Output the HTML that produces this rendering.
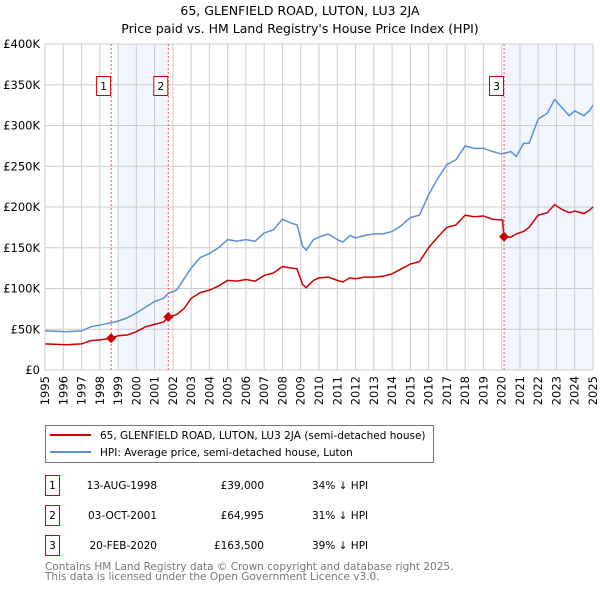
<!DOCTYPE html>
<html><head><meta charset="utf-8"><style>
body{margin:0;background:#fff;font-family:"DejaVu Sans","Liberation Sans",sans-serif;}
svg text{font-family:"DejaVu Sans","Liberation Sans",sans-serif;}
</style></head><body>
<svg id="chart" width="600" height="590" xmlns="http://www.w3.org/2000/svg">
<text x="300" y="15" text-anchor="middle" font-size="12.5" fill="#000">65, GLENFIELD ROAD, LUTON, LU3 2JA</text>
<text x="300" y="33" text-anchor="middle" font-size="12.5" fill="#000">Price paid vs. HM Land Registry's House Price Index (HPI)</text>
<g id="shade"></g><g id="grid"></g><g id="axes"></g><g id="series"></g><g id="marks"></g>
<rect x="45.5" y="425.5" width="388" height="37" fill="#fff" stroke="#777"/>
<line x1="50" y1="435" x2="91" y2="435" stroke="#cc0000" stroke-width="2"/>
<text x="100" y="439" font-size="10.5">65, GLENFIELD ROAD, LUTON, LU3 2JA (semi-detached house)</text>
<line x1="50" y1="452" x2="91" y2="452" stroke="#5b8fd4" stroke-width="2"/>
<text x="100" y="456" font-size="10.5">HPI: Average price, semi-detached house, Luton</text>
<g id="table"></g>
<text x="45" y="570" font-size="10.5" fill="#777">Contains HM Land Registry data © Crown copyright and database right 2025.</text>
<text x="45" y="580" font-size="10.5" fill="#777">This data is licensed under the Open Government Licence v3.0.</text>
</svg>
<script>
const yearTicks=[1995,1996,1997,1998,1999,2000,2001,2002,2003,2004,2005,2006,2007,2008,2009,2010,2011,2012,2013,2014,2015,2016,2017,2018,2019,2020,2021,2022,2023,2024,2025];
const valueTicks=[0,50,100,150,200,250,300,350,400];
const valueTickLabels=["£0","£50K","£100K","£150K","£200K","£250K","£300K","£350K","£400K"];
const hpiYears=[1995,1996.2,1997,1997.5,1998,1998.6,1999,1999.5,2000,2000.5,2001,2001.5,2001.75,2002.2,2002.5,2003,2003.5,2004,2004.5,2005,2005.5,2006,2006.5,2007,2007.5,2008,2008.5,2008.8,2009.1,2009.3,2009.7,2010,2010.5,2011,2011.3,2011.7,2012,2012.5,2013,2013.5,2014,2014.5,2015,2015.5,2016,2016.5,2017,2017.5,2018,2018.5,2019,2019.5,2020,2020.5,2020.8,2021.2,2021.5,2022,2022.5,2022.9,2023.3,2023.7,2024,2024.5,2024.8,2025];
const hpiValues=[48,47,48,53,55,58,60,64,70,77,84,88,94,98,108,125,138,143,150,160,158,160,158,168,172,185,180,178,152,147,160,163,167,160,157,165,162,165,167,167,170,177,187,190,215,235,252,258,275,272,272,268,265,268,262,278,278,308,315,332,322,312,318,312,318,325];
const priceYears=[1995,1996.2,1997,1997.5,1998,1998.62,1999,1999.5,2000,2000.5,2001,2001.5,2001.75,2002.2,2002.6,2003,2003.5,2004,2004.5,2005,2005.5,2006,2006.5,2007,2007.5,2008,2008.5,2008.8,2009.1,2009.3,2009.7,2010,2010.5,2011,2011.3,2011.7,2012,2012.5,2013,2013.5,2014,2014.5,2015,2015.5,2016,2016.5,2017,2017.5,2018,2018.5,2019,2019.5,2020.05,2020.13,2020.5,2020.8,2021.2,2021.5,2022,2022.5,2022.9,2023.3,2023.7,2024,2024.5,2024.8,2025];
const priceValues=[32,31,32,36,37,39,42,43,47,53,56,59,65,68,75,88,95,98,103,110,109,111,109,116,119,127,125,124,105,101,110,113,114,110,108,113,112,114,114,115,118,124,130,133,150,163,175,178,190,188,189,185,184,163.5,163,167,170,175,190,193,203,197,193,195,192,196,200];
const saleIds=["1","2","3"];
const saleYears=[1998.62,2001.75,2020.13];
const saleValues=[39,64.995,163.5];
const saleDates=["13-AUG-1998","03-OCT-2001","20-FEB-2020"];
const salePrices=["£39,000","£64,995","£163,500"];
const saleDiffs=["34% ↓ HPI","31% ↓ HPI","39% ↓ HPI"];

const NS="http://www.w3.org/2000/svg";
const X0=45,X1=593,Y0=370,Y1=44;
function xs(y){return X0+(y-1995)/30*(X1-X0);}
function ys(v){return Y0-v/400*(Y0-Y1);}
function mk(t,a,p){const e=document.createElementNS(NS,t);for(const k in a)e.setAttribute(k,a[k]);document.getElementById(p).appendChild(e);return e;}

let r=mk('rect',{x:xs(1999),y:Y1,width:xs(saleYears[1])-xs(1999),height:Y0-Y1,fill:'#eef3fc',opacity:0.8},'shade');


r=mk('rect',{x:xs(saleYears[2]),y:Y1,width:X1-xs(saleYears[2]),height:Y0-Y1,fill:'#eef3fc',opacity:0.8},'shade');



yearTicks.forEach(y=>{
  let l=mk('line',{x1:xs(y),y1:Y1,x2:xs(y),y2:Y0,stroke:'#ccc','stroke-width':1},'grid');
  
  
  let t=mk('text',{x:0,y:0,'font-size':11.5,'text-anchor':'end',transform:`translate(${xs(y)+4},${Y0+6}) rotate(-90)`},'axes');
  t.textContent=y;
  
  
});
valueTicks.forEach((v,i)=>{
  let l=mk('line',{x1:X0,y1:ys(v),x2:X1,y2:ys(v),stroke:'#ccc','stroke-width':1},'grid');
  
  
  let t=mk('text',{x:X0-5,y:ys(v)+4,'font-size':11.5,'text-anchor':'end'},'axes');
  t.textContent=valueTickLabels[i];
  
  
});

let p=mk('polyline',{points:hpiYears.map((y,i)=>xs(y)+','+ys(hpiValues[i])).join(' '),fill:'none',stroke:'#5b8fd4','stroke-width':1.5},'series');


p=mk('polyline',{points:priceYears.map((y,i)=>xs(y)+','+ys(priceValues[i])).join(' '),fill:'none',stroke:'#cc0000','stroke-width':1.5},'series');



saleYears.forEach((y,i)=>{
  const x=xs(y);
  let l=mk('line',{x1:x,y1:Y1,x2:x,y2:Y0,stroke:'#e55','stroke-width':1,'stroke-dasharray':'2,2'},'marks');
  
  
  let d=mk('path',{d:`M${x} ${ys(saleValues[i])-5}l5 5l-5 5l-5-5z`,fill:'#cc0000'},'marks');
  
  
  let b=mk('rect',{x:x-14.5,y:76.5,width:14,height:19,fill:'#fff',stroke:'#cc0000'},'marks');
  
  
  let t=mk('text',{x:x-7.5,y:90,'font-size':10.5,'text-anchor':'middle'},'marks');
  t.textContent=saleIds[i];
  
  
  const ry=475+i*30;
  let tb=mk('rect',{x:45.5,y:ry+0.5,width:14,height:20,fill:'#fff',stroke:'#cc0000'},'table');
  
  
  let tn=mk('text',{x:52.5,y:ry+14,'font-size':10.5,'text-anchor':'middle'},'table');
  tn.textContent=saleIds[i];
  
  
  let td=mk('text',{x:157,y:ry+14,'font-size':10.5,'text-anchor':'end'},'table');
  td.textContent=saleDates[i];
  
  
  let tp=mk('text',{x:264,y:ry+14,'font-size':10.5,'text-anchor':'end'},'table');
  tp.textContent=salePrices[i];
  
  
  let tf=mk('text',{x:312,y:ry+14,'font-size':10.5},'table');
  tf.textContent=saleDiffs[i];
  
  
});
</script>
</body></html>
